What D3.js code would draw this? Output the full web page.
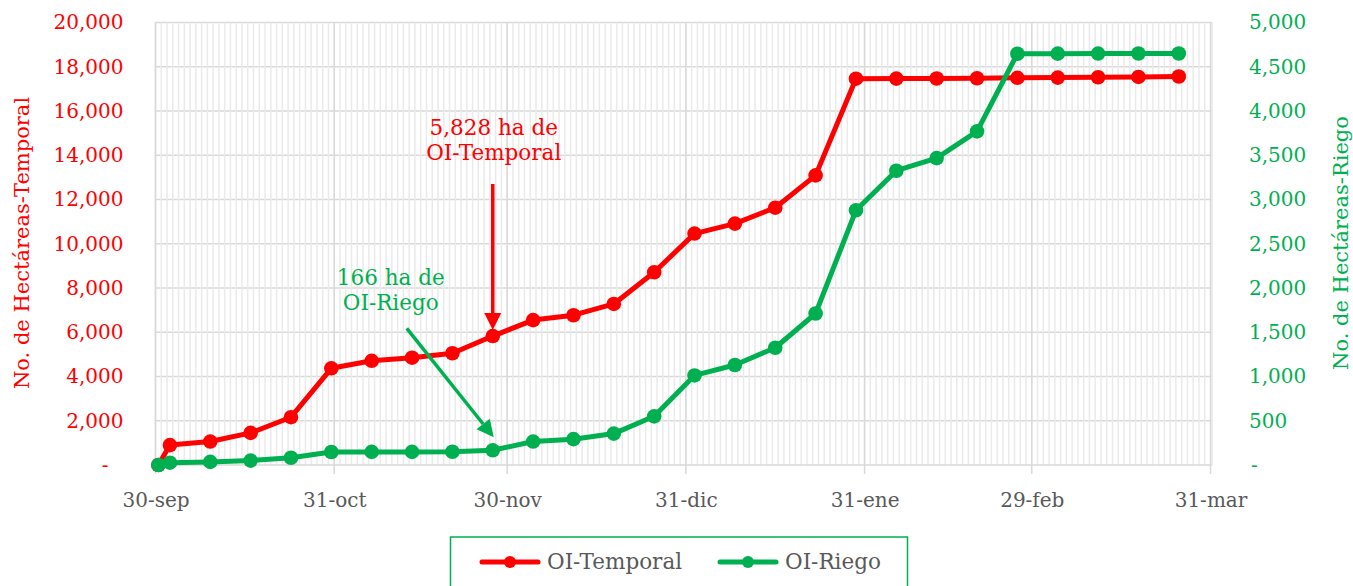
<!DOCTYPE html>
<html><head><meta charset="utf-8">
<script src="https://cdn.jsdelivr.net/npm/d3@7"></script>
<style>
body{margin:0;background:#fff;}
svg{display:block;font-family:"DejaVu Serif",serif;}
</style>
</head><body>
<svg id="c" width="1353" height="586"></svg>
<script>
// ---------- DATA ----------
const dates = ["2023-09-30","2023-10-02","2023-10-09","2023-10-16","2023-10-23","2023-10-30",
  "2023-11-06","2023-11-13","2023-11-20","2023-11-27","2023-12-04","2023-12-11","2023-12-18",
  "2023-12-25","2024-01-01","2024-01-08","2024-01-15","2024-01-22","2024-01-29","2024-02-05",
  "2024-02-12","2024-02-19","2024-02-26","2024-03-04","2024-03-11","2024-03-18","2024-03-25"];
const temporal = [0, 900, 1060, 1450, 2160, 4370, 4710, 4850, 5050, 5828, 6550, 6770, 7280,
  8710, 10460, 10910, 11630, 13090, 17460, 17465, 17470, 17480, 17500, 17510, 17525, 17540, 17560];
const riego = [0, 26, 35, 50, 82, 147, 148, 148, 150, 166, 265, 292, 355,
  550, 1012, 1130, 1325, 1712, 2878, 3325, 3468, 3770, 4647, 4648, 4649, 4650, 4650];
const seriesNames = ["OI-Temporal", "OI-Riego"];
const xTickDates = ["2023-09-30","2023-10-31","2023-11-30","2023-12-31","2024-01-31","2024-02-29","2024-03-31"];
const xTickLabels = ["30-sep","31-oct","30-nov","31-dic","31-ene","29-feb","31-mar"];
const leftTicks = [0,2000,4000,6000,8000,10000,12000,14000,16000,18000,20000];
const rightTicks = [0,500,1000,1500,2000,2500,3000,3500,4000,4500,5000];
const leftTitle = "No. de Hectáreas-Temporal";
const rightTitle = "No. de Hectáreas-Riego";
const noteTemporal = ["5,828 ha de", "OI-Temporal"];
const noteRiego = ["166 ha de", "OI-Riego"];
const noteIndex = 9; // 27-nov

// ---------- STYLE ----------
const RED = "#ff0000", GREEN = "#00b050", GRAY = "#595959";
const svg = d3.select("#c");
const parse = d3.utcParse("%Y-%m-%d");
const X0 = 155.5, X1 = 1210.5, PR = 1212, YT = 22.5, YB = 465;

const x = d3.scaleUtc().domain([parse("2023-09-30"), parse("2024-03-31")]).range([X0, X1]);
const yL = d3.scaleLinear().domain([0, 20000]).range([YB, YT]);
const yR = d3.scaleLinear().domain([0, 5000]).range([YB, YT]);
const px = d => x(d3.utcHour.offset(parse(d), 12));

// horizontal gridlines
svg.append("g").selectAll("line").data(leftTicks.slice(1)).join("line")
  .attr("x1", X0).attr("x2", PR).attr("y1", d => yL(d)).attr("y2", d => yL(d))
  .attr("stroke", "#d9d9d9").attr("stroke-width", 1.3);

// minor daily vertical gridlines
const days = d3.utcDay.range(parse("2023-10-01"), parse("2024-03-31"));
svg.append("g").selectAll("line").data(days).join("line")
  .attr("x1", d => x(d)).attr("x2", d => x(d)).attr("y1", YT).attr("y2", YB)
  .attr("stroke", "#eaeaea").attr("stroke-width", 1.5);

// major month-end gridlines + ticks
svg.append("g").selectAll("line").data(xTickDates).join("line")
  .attr("x1", d => x(parse(d))).attr("x2", d => x(parse(d)))
  .attr("y1", YT).attr("y2", YB + 9)
  .attr("stroke", "#d9d9d9").attr("stroke-width", 1.5);

// axis lines
svg.append("line").attr("x1", X0).attr("x2", PR).attr("y1", YB).attr("y2", YB)
  .attr("stroke", "#d9d9d9").attr("stroke-width", 1.5);
svg.append("line").attr("x1", X0).attr("x2", X0).attr("y1", YT).attr("y2", YB)
  .attr("stroke", "#d9d9d9").attr("stroke-width", 1.5);
svg.append("line").attr("x1", PR).attr("x2", PR).attr("y1", YT).attr("y2", YB)
  .attr("stroke", "#e6e6e6").attr("stroke-width", 1.5);

// axes
const fmt = d3.format(",");
const gL = svg.append("g").attr("transform", `translate(${X0},0)`)
  .call(d3.axisLeft(yL).tickValues(leftTicks).tickSize(0).tickPadding(32)
    .tickFormat(d => d === 0 ? "-" : fmt(d)));
gL.select(".domain").remove();
gL.selectAll("text").attr("fill", RED).style("font-size", "20px").style("font-family", "DejaVu Serif")
  .attr("dx", d => d === 0 ? -15 : 0);

const gR = svg.append("g").attr("transform", `translate(${PR},0)`)
  .call(d3.axisRight(yR).tickValues(rightTicks).tickSize(0).tickPadding(37)
    .tickFormat(d => d === 0 ? "-" : fmt(d)));
gR.select(".domain").remove();
gR.selectAll("text").attr("fill", GREEN).style("font-size", "20px").style("font-family", "DejaVu Serif")
  .attr("dx", d => d === 0 ? 2 : 0);

const gX = svg.append("g").attr("transform", `translate(0,${YB})`)
  .call(d3.axisBottom(x).tickValues(xTickDates.map(parse)).tickSize(0).tickPadding(28)
    .tickFormat((d, i) => xTickLabels[i]));
gX.select(".domain").remove();
gX.selectAll("text").attr("fill", GRAY).style("font-size", "20px").style("font-family", "DejaVu Serif");

// axis titles
svg.append("text").attr("transform", `translate(29,243) rotate(-90)`)
  .attr("text-anchor", "middle").attr("fill", RED).style("font-size", "21px").text(leftTitle);
svg.append("text").attr("transform", `translate(1348,243) rotate(-90)`)
  .attr("text-anchor", "middle").attr("fill", GREEN).style("font-size", "21px").text(rightTitle);

// series
function drawSeries(vals, yS, color) {
  const line = d3.line().x((d, i) => px(dates[i])).y(d => yS(d));
  svg.append("path").datum(vals).attr("d", line).attr("fill", "none")
    .attr("stroke", color).attr("stroke-width", 5).attr("stroke-linejoin", "round");
  svg.append("g").selectAll("circle").data(vals).join("circle")
    .attr("cx", (d, i) => px(dates[i])).attr("cy", d => yS(d)).attr("r", 7.3).attr("fill", color);
}
drawSeries(temporal, yL, RED);
drawSeries(riego, yR, GREEN);

// annotations
function arrow(x1, y1, x2, y2, color) {
  const ang = Math.atan2(y2 - y1, x2 - x1);
  const L = 17, W = 8.5;
  const bx = x2 - L * Math.cos(ang), by = y2 - L * Math.sin(ang);
  svg.append("line").attr("x1", x1).attr("y1", y1).attr("x2", bx).attr("y2", by)
    .attr("stroke", color).attr("stroke-width", 3.5);
  const p = [[x2, y2],
    [bx + W * Math.sin(ang), by - W * Math.cos(ang)],
    [bx - W * Math.sin(ang), by + W * Math.cos(ang)]];
  svg.append("path").attr("d", "M" + p.map(q => q.join(",")).join("L") + "Z").attr("fill", color);
}
const nx = px(dates[noteIndex]);
const tY = yL(temporal[noteIndex]);
arrow(nx, 184, nx, tY - 6, RED);
svg.append("text").attr("x", nx + 1).attr("y", 135).attr("text-anchor", "middle")
  .attr("fill", RED).style("font-size", "21.5px").text(noteTemporal[0]);
svg.append("text").attr("x", nx + 1).attr("y", 160).attr("text-anchor", "middle")
  .attr("fill", RED).style("font-size", "21.5px").text(noteTemporal[1]);

const rY = yR(riego[noteIndex]);
arrow(nx - 86, rY - 122, nx + 1, rY - 13, GREEN);
svg.append("text").attr("x", nx - 102).attr("y", 285).attr("text-anchor", "middle")
  .attr("fill", GREEN).style("font-size", "21.5px").text(noteRiego[0]);
svg.append("text").attr("x", nx - 102).attr("y", 310).attr("text-anchor", "middle")
  .attr("fill", GREEN).style("font-size", "21.5px").text(noteRiego[1]);

// legend
svg.append("rect").attr("x", 450.5).attr("y", 537).attr("width", 457).attr("height", 60)
  .attr("fill", "#fff").attr("stroke", GREEN).attr("stroke-width", 1.5);
const leg = [{name: seriesNames[0], color: RED, x: 482}, {name: seriesNames[1], color: GREEN, x: 720}];
const lg = svg.append("g").selectAll("g").data(leg).join("g");
lg.append("line").attr("x1", d => d.x).attr("x2", d => d.x + 56).attr("y1", 562).attr("y2", 562)
  .attr("stroke", d => d.color).attr("stroke-width", 5).attr("stroke-linecap", "round");
lg.append("circle").attr("cx", d => d.x + 28).attr("cy", 562).attr("r", 6).attr("fill", d => d.color);
lg.append("text").attr("x", d => d.x + 65).attr("y", 569).attr("fill", GRAY)
  .style("font-size", "21.5px").text(d => d.name);
</script>
</body></html>
